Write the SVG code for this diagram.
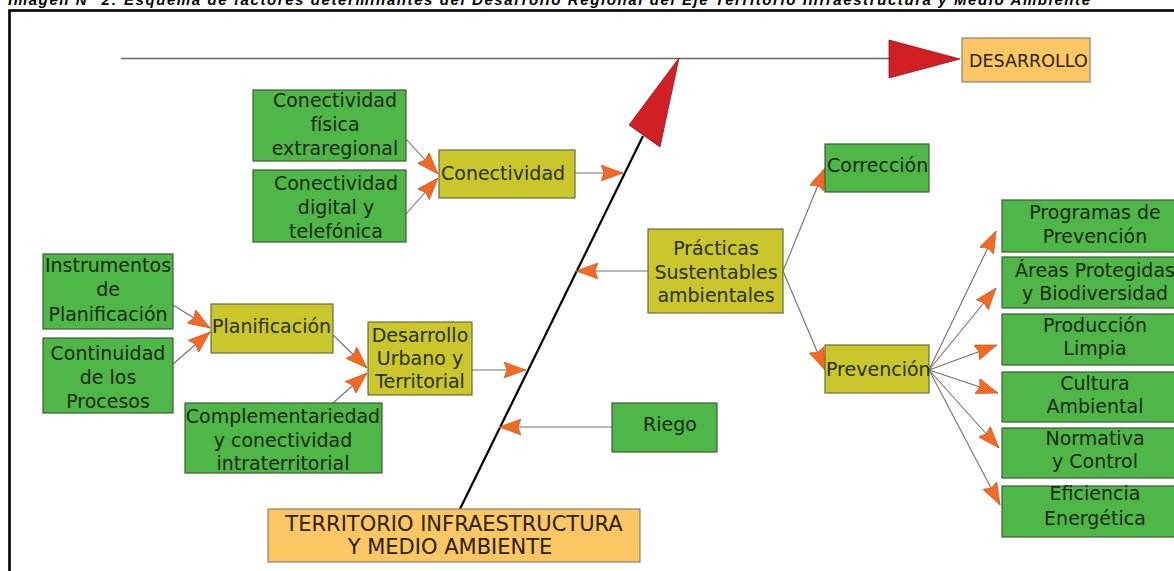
<svg xmlns="http://www.w3.org/2000/svg" width="1174" height="571" viewBox="0 0 1174 571">
<style>
.t{font-family:"DejaVu Sans","Verdana",sans-serif;font-size:19px;fill:#1c2b12}
.ty{font-family:"DejaVu Sans","Verdana",sans-serif;font-size:19px;fill:#2e2e08}
.c{text-anchor:middle}
.g{fill:#4fb648;stroke:#3c5e34;stroke-width:1.2}
.y{fill:#c9c72b;stroke:#6f6a3a;stroke-width:1.2}
.o{fill:#fdc664;stroke:#8a8070;stroke-width:1.2}
.cn{stroke:#707070;stroke-width:1.1;fill:none;marker-end:url(#ah)}
</style>
<defs>
<marker id="ah" viewBox="0 0 22 16" refX="22" refY="8" markerWidth="22" markerHeight="16" orient="auto" markerUnits="userSpaceOnUse">
<path d="M0,0 L22,8 L0,16 L3,8 z" fill="#f26a24" stroke="#c4501a" stroke-width="0.6"/>
</marker>
</defs>
<rect width="1174" height="571" fill="#ffffff"/>
<text x="8" y="5" font-family="Liberation Sans, Arial, sans-serif" font-size="15" font-style="italic" font-weight="bold" fill="#000" textLength="1082" lengthAdjust="spacing">Imagen N° 2: Esquema de factores determinantes del Desarrollo Regional del Eje Territorio Infraestructura y Medio Ambiente</text>
<rect x="9.5" y="10.5" width="1200" height="600" fill="none" stroke="#000" stroke-width="2.6"/>

<g id="axes">
<line x1="121" y1="58.5" x2="889" y2="58.5" stroke="#666" stroke-width="1.3"/>
<polygon points="889,40 889,78 960,59" fill="#d11f26" stroke="#8c1a1a" stroke-width="0.8"/>
<line x1="460" y1="509" x2="643" y2="136" stroke="#000" stroke-width="2.2"/>
<polygon points="629,125 660,147 679,58" fill="#d11f26" stroke="#8c1a1a" stroke-width="0.8"/>
</g>

<g id="connectors">
<line class="cn" x1="406" y1="139" x2="438" y2="174"/>
<line class="cn" x1="406" y1="214" x2="438" y2="178"/>
<line class="cn" x1="575" y1="173" x2="623" y2="173"/>
<line class="cn" x1="173" y1="305" x2="210" y2="328"/>
<line class="cn" x1="173" y1="364" x2="210" y2="332"/>
<line class="cn" x1="333" y1="335" x2="367" y2="368"/>
<line class="cn" x1="333" y1="403" x2="367" y2="373"/>
<line class="cn" x1="472" y1="370" x2="526" y2="370"/>
<line class="cn" x1="648" y1="271" x2="576" y2="271"/>
<line class="cn" x1="612" y1="427" x2="499" y2="427"/>
<line class="cn" x1="783" y1="271" x2="825" y2="168"/>
<line class="cn" x1="783" y1="271" x2="825" y2="370"/>
<line class="cn" x1="929" y1="370" x2="996" y2="231"/>
<line class="cn" x1="929" y1="370" x2="996" y2="288"/>
<line class="cn" x1="929" y1="370" x2="997" y2="345"/>
<line class="cn" x1="929" y1="370" x2="998" y2="393"/>
<line class="cn" x1="929" y1="370" x2="999" y2="448"/>
<line class="cn" x1="929" y1="370" x2="1000" y2="505"/>
</g>

<g id="desarrollo">
<rect class="o" x="962" y="38" width="128" height="44"/>
<text x="969" y="67" font-family="DejaVu Sans, sans-serif" font-size="17.5" fill="#2a2208">DESARROLLO</text>
</g>

<g id="territorio">
<rect class="o" x="268" y="509" width="372" height="53"/>
<text class="c" x="454" y="531" font-family="DejaVu Sans, sans-serif" font-size="21" fill="#2a2208">TERRITORIO INFRAESTRUCTURA</text>
<text class="c" x="450" y="554" font-family="DejaVu Sans, sans-serif" font-size="21" fill="#2a2208">Y MEDIO AMBIENTE</text>
</g>

<g id="con-fisica">
<rect class="g" x="253" y="90" width="153" height="71"/>
<text class="t c" x="335"><tspan x="335" y="107">Conectividad</tspan><tspan x="335" y="131">física</tspan><tspan x="335" y="155">extraregional</tspan></text>
</g>
<g id="con-digital">
<rect class="g" x="253" y="170" width="153" height="72"/>
<text class="t c" x="336"><tspan x="336" y="190">Conectividad</tspan><tspan x="336" y="214">digital y</tspan><tspan x="336" y="238">telefónica</tspan></text>
</g>
<g id="conectividad">
<rect class="y" x="439" y="150" width="136" height="48"/>
<text class="ty" x="441" y="180">Conectividad</text>
</g>

<g id="instrumentos">
<rect class="g" x="43" y="254" width="130" height="75"/>
<text class="t c"><tspan x="108" y="272">Instrumentos</tspan><tspan x="108" y="296">de</tspan><tspan x="108" y="321">Planificación</tspan></text>
</g>
<g id="continuidad">
<rect class="g" x="43" y="338" width="130" height="75"/>
<text class="t c"><tspan x="108" y="360">Continuidad</tspan><tspan x="108" y="384">de los</tspan><tspan x="108" y="408">Procesos</tspan></text>
</g>
<g id="planificacion">
<rect class="y" x="211" y="304" width="122" height="49"/>
<text class="ty" x="212" y="333">Planificación</text>
</g>
<g id="desarrollo-urbano">
<rect class="y" x="368" y="322" width="104" height="73"/>
<text class="ty c" font-size="18.5"><tspan x="420" y="342">Desarrollo</tspan><tspan x="420" y="365">Urbano y</tspan><tspan x="420" y="388">Territorial</tspan></text>
</g>
<g id="complementariedad">
<rect class="g" x="185" y="403" width="197" height="70"/>
<text class="t c"><tspan x="283" y="423">Complementariedad</tspan><tspan x="283" y="447">y conectividad</tspan><tspan x="283" y="470">intraterritorial</tspan></text>
</g>

<g id="practicas">
<rect class="y" x="648" y="229" width="135" height="84"/>
<text class="ty c"><tspan x="716" y="255">Prácticas</tspan><tspan x="716" y="279">Sustentables</tspan><tspan x="716" y="302">ambientales</tspan></text>
</g>
<g id="riego">
<rect class="g" x="612" y="403" width="105" height="49"/>
<text class="t c" x="670" y="431">Riego</text>
</g>
<g id="correccion">
<rect class="g" x="825" y="144" width="104" height="48"/>
<text class="t" x="827" y="172">Corrección</text>
</g>
<g id="prevencion">
<rect class="y" x="825" y="345" width="104" height="48"/>
<text class="ty" x="826" y="376">Prevención</text>
</g>

<g id="programas">
<rect class="g" x="1002" y="200" width="190" height="52"/>
<text class="t c"><tspan x="1095" y="219">Programas de</tspan><tspan x="1095" y="243">Prevención</tspan></text>
</g>
<g id="areas">
<rect class="g" x="1002" y="257" width="190" height="51"/>
<text class="t c"><tspan x="1095" y="277">Áreas Protegidas</tspan><tspan x="1095" y="300">y Biodiversidad</tspan></text>
</g>
<g id="produccion">
<rect class="g" x="1002" y="314" width="190" height="51"/>
<text class="t c"><tspan x="1095" y="332">Producción</tspan><tspan x="1095" y="355">Limpia</tspan></text>
</g>
<g id="cultura">
<rect class="g" x="1002" y="372" width="190" height="50"/>
<text class="t c"><tspan x="1095" y="390">Cultura</tspan><tspan x="1095" y="413">Ambiental</tspan></text>
</g>
<g id="normativa">
<rect class="g" x="1002" y="428" width="190" height="50"/>
<text class="t c"><tspan x="1095" y="445">Normativa</tspan><tspan x="1095" y="468">y Control</tspan></text>
</g>
<g id="eficiencia">
<rect class="g" x="1002" y="486" width="190" height="51"/>
<text class="t c"><tspan x="1095" y="500">Eficiencia</tspan><tspan x="1095" y="525">Energética</tspan></text>
</g>
</svg>
